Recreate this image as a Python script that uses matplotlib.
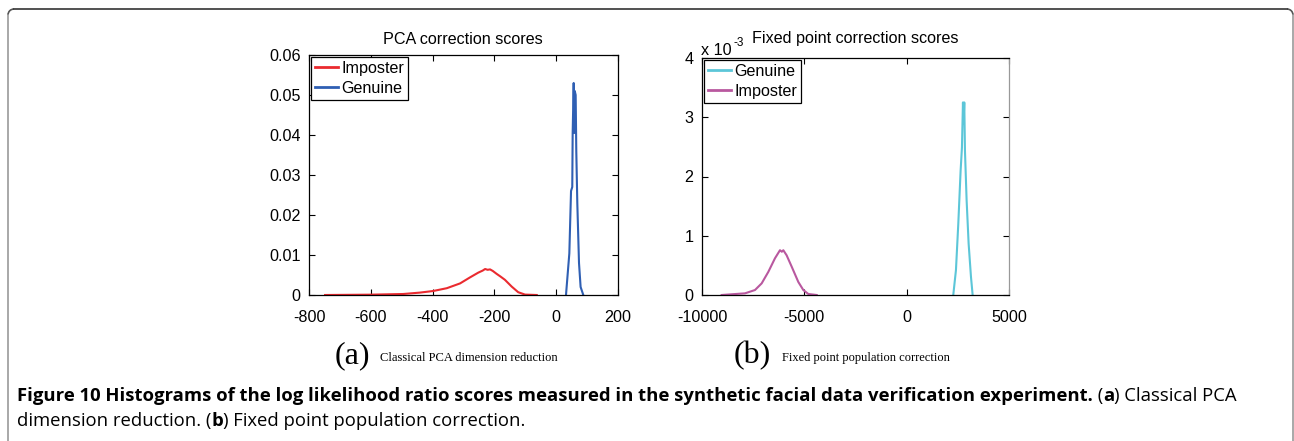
import matplotlib
matplotlib.use("Agg")
import matplotlib.pyplot as plt
from matplotlib.lines import Line2D
from matplotlib.patches import Arc
from matplotlib.ticker import FuncFormatter

W, H = 1294, 441

# ---- data ----
pca_imp_x = [-748, -603, -495, -441, -398, -354, -311, -279, -252, -238, -230, -222,
             -214, -205, -193, -180, -166, -144, -123, -101, -63]
pca_imp_y = [0.0, 0.00008, 0.00025, 0.0006, 0.001, 0.0017, 0.0029, 0.0044, 0.0056,
             0.0061, 0.0065, 0.0063, 0.0064, 0.0060, 0.0053, 0.0046, 0.0038, 0.0021,
             0.0007, 0.0001, 0.0]
pca_gen_x = [31.7, 42.5, 48, 52, 53.3, 56.6, 58.7, 60, 63, 65, 68.3, 73.8, 79, 87.7]
pca_gen_y = [0.0, 0.0104, 0.026, 0.027, 0.0405, 0.053, 0.0405, 0.051, 0.050, 0.036,
             0.023, 0.008, 0.002, 0.0]

fp_gen_x = [2277, 2408, 2522, 2636, 2701, 2750, 2780, 2815, 2848, 2929, 3027, 3141, 3223]
fp_gen_y = [0.0, 0.42e-3, 1.2e-3, 2.1e-3, 2.49e-3, 3.25e-3, 2.9e-3, 3.25e-3, 2.44e-3,
            1.6e-3, 0.87e-3, 0.31e-3, 0.0]
fp_imp_x = [-9038, -7900, -7411, -7085, -6760, -6434, -6190, -6100, -6027, -5865, -5620,
            -5294, -5050, -4806, -4397]
fp_imp_y = [0.0, 0.028e-3, 0.084e-3, 0.196e-3, 0.39e-3, 0.62e-3, 0.756e-3, 0.73e-3,
            0.756e-3, 0.67e-3, 0.48e-3, 0.22e-3, 0.084e-3, 0.017e-3, 0.0]

pca_xticks = [-800, -600, -400, -200, 0, 200]
pca_yticks = [0, 0.01, 0.02, 0.03, 0.04, 0.05, 0.06]
fp_xticks = [-10000, -5000, 0, 5000]
fp_yticks = [0, 1e-3, 2e-3, 3e-3, 4e-3]

RED = "#ea2a2f"
BLUE = "#2f5fb3"
CYAN = "#5cc6d8"
MAGENTA = "#b9589f"

plt.rcParams["font.family"] = ["Liberation Sans", "DejaVu Sans"]
plt.rcParams["axes.unicode_minus"] = False

FS = 11.6

fig = plt.figure(figsize=(W / 100, H / 100), dpi=100)


def ax_rect(l, t, r, b):
    return [l / W, 1 - b / H, (r - l) / W, (b - t) / H]


def style(ax):
    ax.tick_params(direction="in", top=True, right=True, length=4, width=0.8,
                   labelsize=FS, colors="black")
    ax.tick_params(axis="x", pad=11)
    ax.tick_params(axis="y", pad=6)
    for s in ax.spines.values():
        s.set_linewidth(0.9)


def legend(ax):
    leg = ax.legend(loc="upper left", fontsize=FS, handlelength=1.45, handletextpad=0.2,
                    borderaxespad=0.12, borderpad=0.25, labelspacing=0.3, fancybox=False,
                    framealpha=1, edgecolor="black")
    leg.get_frame().set_linewidth(0.9)
    for l in leg.get_lines():
        l.set_linewidth(2.0)


ax1 = fig.add_axes(ax_rect(309, 55, 618, 295))
ax1.plot(pca_imp_x, pca_imp_y, color=RED, lw=1.5, label="Imposter")
ax1.plot(pca_gen_x, pca_gen_y, color=BLUE, lw=1.5, label="Genuine")
ax1.set_xlim(-800, 200)
ax1.set_ylim(0, 0.06)
ax1.set_xticks(pca_xticks)
ax1.set_yticks(pca_yticks)
ax1.yaxis.set_major_formatter(FuncFormatter(lambda v, p: "0" if v == 0 else f"{v:.2f}"))
style(ax1)
legend(ax1)

ax2 = fig.add_axes(ax_rect(702, 58, 1009, 295))
ax2.plot(fp_gen_x, fp_gen_y, color=CYAN, lw=1.5, label="Genuine")
ax2.plot(fp_imp_x, fp_imp_y, color=MAGENTA, lw=1.5, label="Imposter")
ax2.set_xlim(-10000, 5000)
ax2.set_ylim(0, 4e-3)
ax2.set_xticks(fp_xticks)
ax2.set_yticks(fp_yticks)
ax2.yaxis.set_major_formatter(FuncFormatter(lambda v, p: f"{round(v * 1000):d}"))
style(ax2)
ax2.spines["right"].set_color("#999999")
legend(ax2)


def ftext(x, y, s, **kw):
    return fig.text(x / W, 1 - y / H, s, **kw)


ftext(463, 39, "PCA correction scores", fontsize=FS, ha="center", va="center")
ftext(855, 39, "Fixed point correction scores", fontsize=FS, ha="center", va="center")
ftext(701, 55, "x 10", fontsize=FS, ha="left", va="baseline")
ftext(733, 46, "-3", fontsize=8.5, ha="left", va="baseline")

# sub-captions
ftext(352, 356, "(a)", fontsize=23, family=["Liberation Serif"], ha="center", va="center")
ftext(380, 358, "Classical PCA dimension reduction", fontsize=9,
      family=["Liberation Serif"], ha="left", va="center")
ftext(752, 356, "(b)", fontsize=23, family=["Liberation Serif"], ha="center", va="center")
ftext(782, 358, "Fixed point population correction", fontsize=9,
      family=["Liberation Serif"], ha="left", va="center")

# figure caption
cap_font = ["Open Sans", "DejaVu Sans"]
CFS = 13.3
fig.canvas.draw()
x_next = 17 / W
segs = [("Figure 10 Histograms of the log likelihood ratio scores measured in the synthetic facial data verification experiment.", "bold"),
        (" (", "normal"), ("a", "bold"), (") Classical PCA", "normal")]
for s, wgt in segs:
    t = fig.text(x_next, 1 - 396 / H, s, fontsize=CFS, fontweight=wgt, family=cap_font,
                 ha="left", va="center")
    fig.canvas.draw()
    x_next = t.get_window_extent().x1 / W

x_next = 17 / W
segs2 = [("dimension reduction. (", "normal"), ("b", "bold"),
         (") Fixed point population correction.", "normal")]
for s, wgt in segs2:
    t = fig.text(x_next, 1 - 421 / H, s, fontsize=CFS, fontweight=wgt, family=cap_font,
                 ha="left", va="center")
    fig.canvas.draw()
    x_next = t.get_window_extent().x1 / W

# border
fig.add_artist(Line2D([14 / W, 1287 / W], [1 - 9 / H, 1 - 9 / H], color="#333333", lw=1.2,
                      transform=fig.transFigure))
fig.add_artist(Line2D([8 / W, 8 / W], [1 - 15 / H, 0], color="#999999", lw=1.2,
                      transform=fig.transFigure))
fig.add_artist(Line2D([1293 / W, 1293 / W], [1 - 15 / H, 0], color="#999999", lw=1.2,
                      transform=fig.transFigure))
fig.add_artist(Arc((14 / W, 1 - 15 / H), 12 / W, 12 / H, theta1=90, theta2=180,
                   color="#555555", lw=1.2, transform=fig.transFigure))
fig.add_artist(Arc((1287 / W, 1 - 15 / H), 12 / W, 12 / H, theta1=0, theta2=90,
                   color="#555555", lw=1.2, transform=fig.transFigure))

fig.savefig("out.png", dpi=100)
